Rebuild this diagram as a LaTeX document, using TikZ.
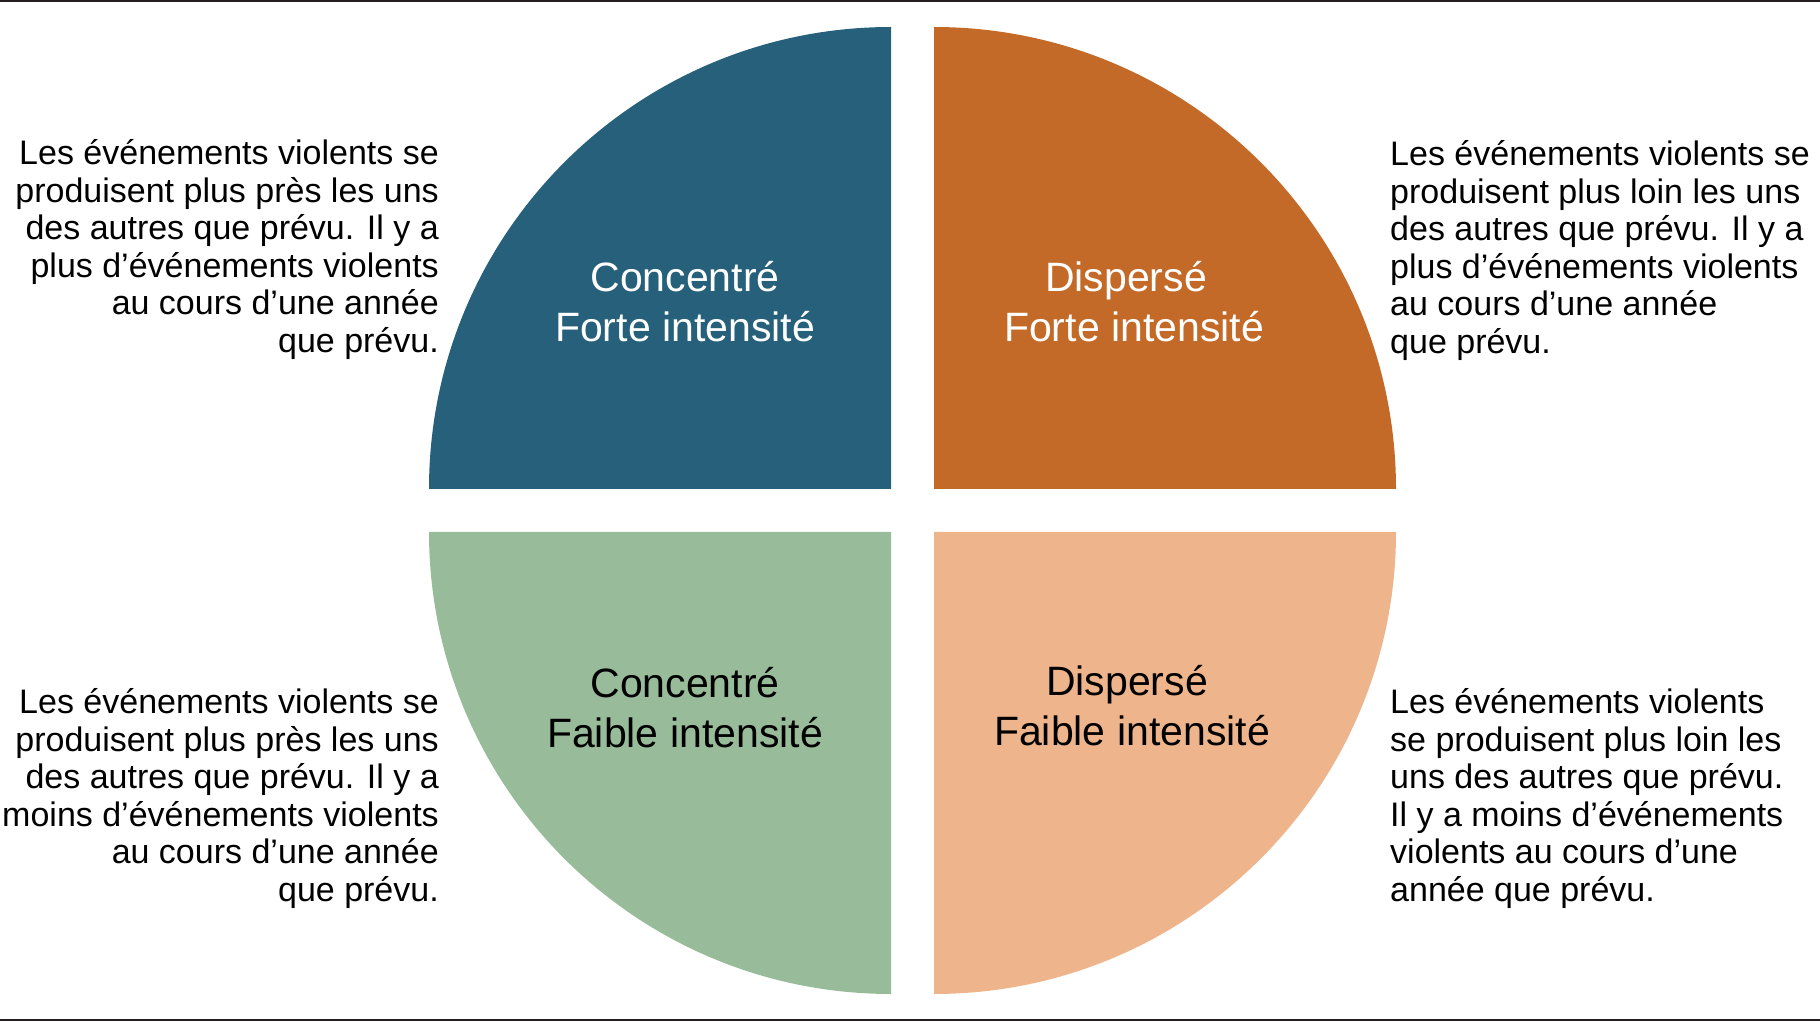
\documentclass[tikz,border=0pt]{standalone}
\usepackage{fontspec}
\setmainfont{Liberation Sans}
\definecolor{qteal}{HTML}{26607A}
\definecolor{qorange}{HTML}{C46A29}
\definecolor{qgreen}{HTML}{98BC9A}
\definecolor{qpeach}{HTML}{EEB48C}
\definecolor{rulecol}{HTML}{231F20}
\begin{document}
\begin{tikzpicture}[x=1pt,y=1pt,
  sidetext/.style={inner sep=0pt,font=\fontsize{34}{37.6}\selectfont,text=black},
  quadlabel/.style={inner sep=0pt,align=center,font=\fontsize{41}{50}\selectfont}]
\useasboundingbox (0,0) rectangle (1820,1021);
% rules
\fill[rulecol] (0,1018.5) rectangle (1820,1021);
\fill[rulecol] (0,0) rectangle (1820,2.5);
% quadrants
\fill[qteal] (891,532) -- ++(-462pt,0) arc[start angle=180,end angle=90,radius=462pt] -- cycle;
\fill[qorange] (934,532) -- ++(0,462pt) arc[start angle=90,end angle=0,radius=462pt] -- cycle;
\fill[qgreen] (891,489) -- ++(0,-462pt) arc[start angle=270,end angle=180,radius=462pt] -- cycle;
\fill[qpeach] (934,489) -- ++(462pt,0) arc[start angle=0,end angle=-90,radius=462pt] -- cycle;
% quadrant labels (anchor base = last line baseline)
\node[quadlabel,text=white,anchor=base] (tl) at (685,679.7) {Concentré\\Forte intensité};
\node[quadlabel,text=white,anchor=base] (tr) at (1134,679.7) {Dispersé\hbox to 16pt{}\\Forte intensité};
\node[quadlabel,text=black,anchor=base] (bl) at (685,273.7) {Concentré\\Faible intensité};
\node[quadlabel,text=black,anchor=base] (br) at (1132,275.4) {Dispersé\hbox to 10pt{}\\Faible intensité};
% side texts
\node[sidetext,align=right,anchor=base east] (tltext) at (439,668.5) {Les événements violents se\\produisent plus près les uns\\des autres que prévu. Il y a\\plus d’événements violents\\au cours d’une année\\que prévu.};
\node[sidetext,align=left,anchor=base west] (trtext) at (1390,667.5) {Les événements violents se\\produisent plus loin les uns\\des autres que prévu. Il y a\\plus d’événements violents\\au cours d’une année\\que prévu.};
\node[sidetext,align=right,anchor=base east] (bltext) at (439,119.5) {Les événements violents se\\produisent plus près les uns\\des autres que prévu. Il y a\\moins d’événements violents\\au cours d’une année\\que prévu.};
\node[sidetext,align=left,anchor=base west] (brtext) at (1390,119.5) {Les événements violents\\se produisent plus loin les\\uns des autres que prévu.\\Il y a moins d’événements\\violents au cours d’une\\année que prévu.};
\end{tikzpicture}
\end{document}
